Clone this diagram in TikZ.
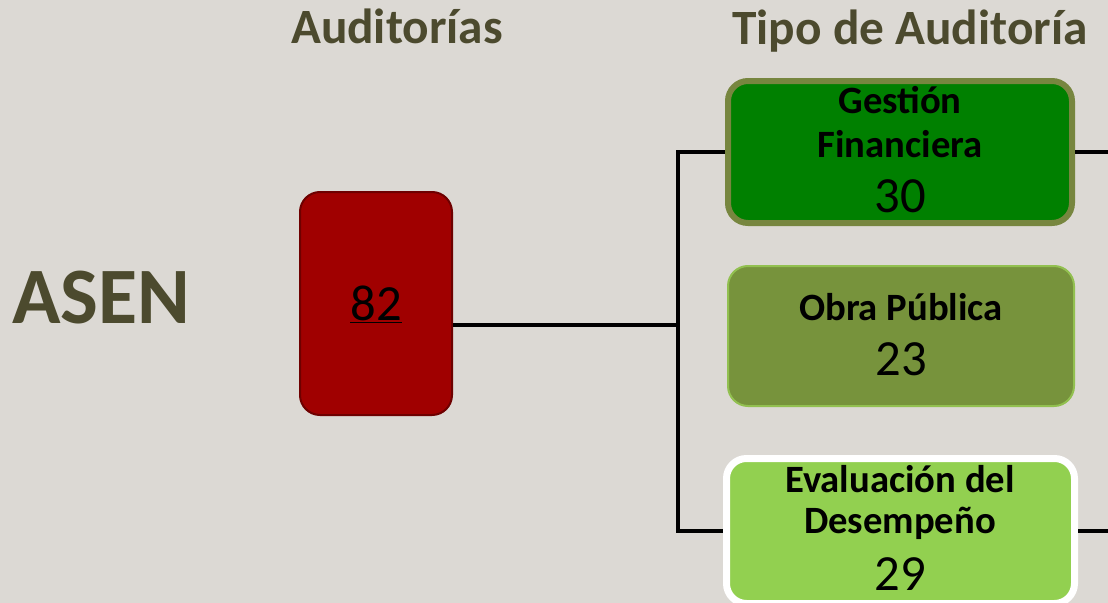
\documentclass[tikz,border=0pt]{standalone}
\usepackage{fontspec}
\setmainfont{Carlito}
\usetikzlibrary{positioning}
\definecolor{bgstone}{HTML}{DCD9D4}
\definecolor{olivetext}{HTML}{4C4A2E}
\definecolor{asenred}{HTML}{A00000}
\definecolor{asenredline}{HTML}{6E0000}
\definecolor{gfgreen}{HTML}{008000}
\definecolor{gfline}{HTML}{77863F}
\definecolor{obgreen}{HTML}{77933C}
\definecolor{obline}{HTML}{92C050}
\definecolor{edgreen}{HTML}{92D050}
\newcommand{\headfont}{\fontsize{37pt}{41pt}\selectfont\bfseries}
\newcommand{\boxfont}{\fontsize{29pt}{33pt}\selectfont\bfseries}
\newcommand{\numfont}{\fontsize{38pt}{42pt}\selectfont}

\begin{document}
\begin{tikzpicture}[x=0.75pt,y=-0.75pt,
  head/.style={font=\headfont,text=olivetext,anchor=base,inner sep=0pt},
  boxtext/.style={font=\boxfont,text=black,anchor=base,inner sep=0pt},
  boxnum/.style={font=\numfont,text=black,anchor=base,inner sep=0pt},
  tipobox/.style={rounded corners=15pt,inner sep=0pt},
  conn/.style={line width=2.6pt,black}]
\useasboundingbox (0,0) rectangle (1108,603);
\fill[bgstone] (0,0) rectangle (1108,603);
% titles
\node[head] (haud) at (397,43) {Auditorías};
\node[head] (htipo) at (910,45) {Tipo de Auditoría};
\node[font=\fontsize{60pt}{64pt}\selectfont\bfseries,text=olivetext,anchor=base west,inner sep=0pt] (asen) at (12,323) {ASEN};
% total
\node[tipobox,fill=asenred,draw=asenredline,line width=1.5pt,minimum width=114pt,minimum height=167.25pt] (total) at (376,303.5) {};
\node[boxnum] (totaln) at (376,320) {\underline{82}};
% tipos
\node[tipobox,fill=gfgreen,draw=gfline,line width=4.5pt,minimum width=258pt,minimum height=106.5pt] (gf) at (900,152) {};
\node[boxtext] (gf1) at (900,113) {Gestión};
\node[boxtext] (gf2) at (900,157) {Financiera};
\node[boxnum] (gfn) at (900,212) {30};
\node[tipobox,fill=obgreen,draw=obline,line width=1.5pt,minimum width=259.5pt,minimum height=105pt] (ob) at (901,336) {};
\node[boxtext] (ob1) at (901,320) {Obra Pública};
\node[boxnum] (obn) at (901,375) {23};
\node[tipobox,fill=edgreen,draw=white,line width=5.25pt,minimum width=261pt,minimum height=108.75pt] (ed) at (900.5,531) {};
\node[boxtext] (ed1) at (900,492) {Evaluación del};
\node[boxtext] (ed2) at (900,533) {Desempeño};
\node[boxnum] (edn) at (900,590) {29};
% conectores
\coordinate (join) at (678,325);
\coordinate (gfout) at (1108,152);
\coordinate (edout) at (1108,531);
\draw[conn] (total.east |- join) -- (join);
\draw[conn] (gf.west) -| (join) |- (ed.west);
\draw[conn] (gf.east) -- (gfout);
\draw[conn] (ed.east) -- (edout);
\end{tikzpicture}
\end{document}
